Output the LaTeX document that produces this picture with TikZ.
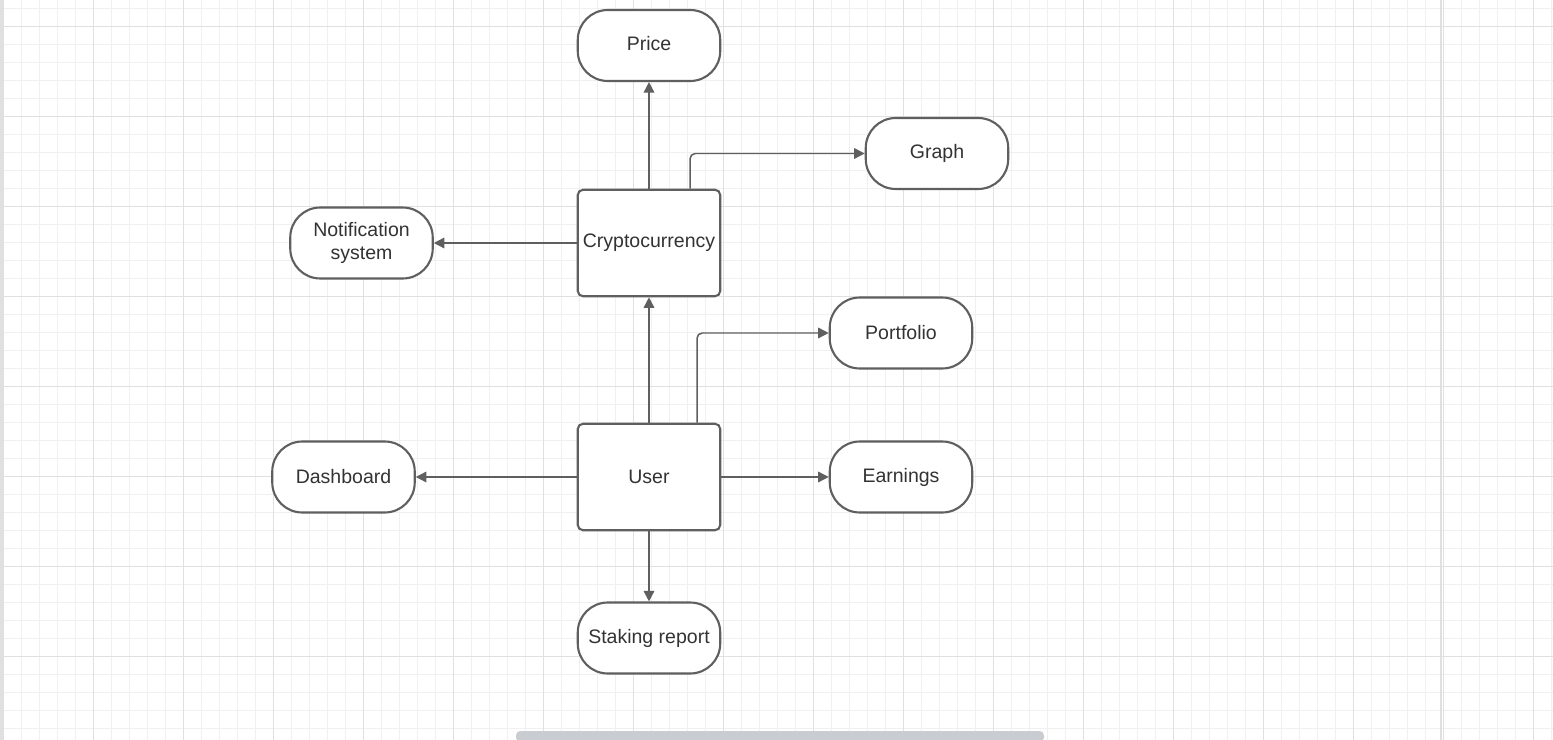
\documentclass[tikz,border=0pt]{standalone}
\usepackage{fontspec}
\setmainfont{Liberation Sans}
\usetikzlibrary{arrows.meta}
\definecolor{minorgrid}{HTML}{F0F0F0}
\definecolor{majorgrid}{HTML}{E0E0E0}
\definecolor{edgegray}{HTML}{5F5F5F}
\definecolor{textgray}{HTML}{333333}
\definecolor{barcolor}{HTML}{C9CCD1}
\begin{document}
\begin{tikzpicture}[x=0.02cm, y=-0.02cm,
    every node/.style={font=\fontsize{11.1}{13.5}\selectfont, text=textgray},
    entity/.style={rectangle, draw=edgegray, line width=1.2pt, fill=white, rounded corners=3pt, minimum width=2.85cm, minimum height=2.13cm, inner sep=0pt},
    terminal/.style={rectangle, draw=edgegray, line width=1.2pt, fill=white, rounded corners=0.6cm, minimum width=2.85cm, minimum height=1.42cm, align=center, inner sep=0pt},
    link/.style={draw=edgegray, line width=0.85pt, rounded corners=3pt, -{Triangle[length=6pt,width=6pt]}}]
            \useasboundingbox (0,0) rectangle (1553,740);
            \fill[white] (0,0) rectangle (1553,740);

            % grid
            \foreach \x in {3.3,21.3,...,1553} \draw[minorgrid, line width=0.5pt] (\x,0) -- (\x,740);
            \foreach \y in {8,26,...,740} \draw[minorgrid, line width=0.5pt] (0,\y) -- (1553,\y);
            \foreach \x in {3.3,93.3,...,1553} \draw[majorgrid, line width=0.55pt] (\x,0) -- (\x,740);
            \foreach \y in {26,116,...,740} \draw[majorgrid, line width=0.55pt] (0,\y) -- (1553,\y);
            \draw[majorgrid, line width=1.1pt] (1441,0) -- (1441,740);
            \fill[majorgrid] (0,0) rectangle (3,740);
            \fill[barcolor, rounded corners=2.5pt] (516,731) rectangle (1044,742);

            % nodes
            \node[entity] (crypto) at (649,243) {Cryptocurrency};
            \node[entity] (user) at (649,477) {User};
            \node[terminal] (price) at (649,45.5) {\raisebox{2pt}{Price}};
            \node[terminal] (graph) at (937,153.5) {\raisebox{1pt}{Graph}};
            \node[terminal] (notify) at (361.5,243) {Notification\\system};
            \node[terminal] (portfolio) at (901,333) {\raisebox{1pt}{Portfolio}};
            \node[terminal] (dashboard) at (343.5,477) {Dashboard};
            \node[terminal] (earnings) at (901,477) {Earnings};
            \node[terminal] (staking) at (649,638) {Staking report};

            % connectors
            \draw[link] (crypto) -- (price);
            \draw[link] (crypto.north) ++(41,0) |- (graph.west);
            \draw[link] (crypto) -- (notify);
            \draw[link] (user) -- (crypto);
            \draw[link] (user.north) ++(48,0) |- (portfolio.west);
            \draw[link] (user) -- (dashboard);
            \draw[link] (user) -- (earnings);
            \draw[link] (user) -- (staking);
        \end{tikzpicture}
\end{document}
